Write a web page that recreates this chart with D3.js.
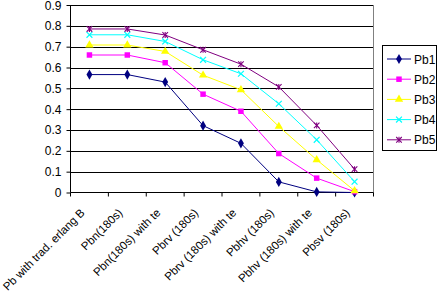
<!DOCTYPE html>
<html><head><meta charset="utf-8">
<script src="https://cdn.jsdelivr.net/npm/d3@7"></script>
<style>body{margin:0;background:#fff}svg{display:block}text{font-family:"Liberation Sans",Arial,sans-serif}</style>
</head><body><svg id="c" width="438" height="299"></svg>
<script>
const categories = ["Pb with trad. erlang B","Pbn(180s)","Pbn(180s) with te","Pbrv (180s)","Pbrv (180s) with te","Pbhv (180s)","Pbhv (180s) with te","Pbsv (180s)"];
const pb1 = [0.566,0.566,0.530,0.321,0.236,0.051,0.003,0.0];
const pb2 = [0.660,0.660,0.623,0.472,0.390,0.187,0.069,0.004];
const pb3 = [0.708,0.708,0.677,0.563,0.493,0.317,0.157,0.008];
const pb4 = [0.757,0.757,0.725,0.637,0.570,0.426,0.253,0.052];
const pb5 = [0.785,0.785,0.756,0.685,0.616,0.507,0.322,0.112];
const seriesNames = ["Pb1","Pb2","Pb3","Pb4","Pb5"];
const yTicks = [0,0.1,0.2,0.3,0.4,0.5,0.6,0.7,0.8,0.9];

const seriesData = [pb1,pb2,pb3,pb4,pb5];
const colors = ["#000080","#FF00FF","#FFFF00","#00FFFF","#800080"];
const symbols = ["diamond","square","triangle","x","star"];

const svg = d3.select("#c");
const L=70.5, R=373.5, T=5, B=192.5;
const x = d3.scaleBand().domain(categories).range([L,R]);
const y = d3.scaleLinear().domain([0,0.9]).range([B,T]);

// gridlines
svg.append("g").selectAll("line").data(yTicks.filter(d=>d>0)).join("line")
  .attr("x1",L).attr("x2",R).attr("y1",d=>Math.round(y(d))+0.5).attr("y2",d=>Math.round(y(d))+0.5)
  .attr("stroke","#000").attr("stroke-width",1);
// right border
svg.append("line").attr("x1",R).attr("x2",R).attr("y1",T).attr("y2",B).attr("stroke","#808080");

// y axis
const yAx = svg.append("g").attr("transform",`translate(${L},0)`)
  .call(d3.axisLeft(y).tickValues(yTicks).tickSize(4).tickPadding(5).tickFormat(d=>d===0?"0":d3.format(".1f")(d)));
yAx.selectAll("text").attr("font-size","12px").attr("fill","#000");
yAx.selectAll("line,path").attr("stroke","#000");
yAx.select(".domain").attr("d",`M0,${T}V${B}`);
yAx.selectAll(".tick").filter(d=>d===0.9).select("text").attr("dy","0.36em");

// x axis
const xAx = svg.append("g").attr("transform",`translate(0,${B})`)
  .call(d3.axisBottom(x).tickSize(0).tickFormat(""));
xAx.select(".domain").attr("d",`M${L},0H${R}`).attr("stroke","#000");
xAx.selectAll("line.bt").data(d3.range(categories.length+1)).join("line")
  .attr("x1",i=>L+i*x.step()).attr("x2",i=>L+i*x.step()).attr("y1",0).attr("y2",4).attr("stroke","#000");
svg.append("g").selectAll("text").data(categories).join("text")
  .attr("transform",d=>`translate(${x(d)+x.bandwidth()/2-4},${B+21}) rotate(-45)`)
  .attr("text-anchor","end").attr("font-size","11.5px").attr("fill","#000").text(d=>d);

// lines + markers
const line = d3.line().x((d,i)=>x(categories[i])+x.bandwidth()/2).y(d=>y(d));
const sym = {diamond:d3.symbolDiamond, square:d3.symbolSquare, triangle:d3.symbolTriangle};
function drawMarker(g, s, c){
  if(s==="star"){
    g.append("path").attr("d",d3.symbol(d3.symbolTimes,22)()).attr("fill","none").attr("stroke",c).attr("stroke-width",1.1);
    g.append("line").attr("x1",0).attr("x2",0).attr("y1",-3).attr("y2",3).attr("stroke",c).attr("stroke-width",1.1);
  } else if(s==="x"){
    g.append("path").attr("d",d3.symbol(d3.symbolTimes,24)()).attr("fill","none").attr("stroke",c).attr("stroke-width",1.2);
  } else {
    g.append("path").attr("d",d3.symbol(sym[s], s==="square"?30:(s==="triangle"?30:30))()).attr("fill",c);
  }
}
seriesData.forEach((vals,k)=>{
  svg.append("path").datum(vals).attr("d",line).attr("fill","none").attr("stroke",colors[k]).attr("stroke-width",1);
  vals.forEach((v,i)=>{
    const g = svg.append("g").attr("transform",`translate(${x(categories[i])+x.bandwidth()/2},${y(v)})`);
    drawMarker(g, symbols[k], colors[k]);
  });
});

// legend
const lg = svg.append("g");
lg.append("rect").attr("x",382.5).attr("y",45.5).attr("width",54).attr("height",105).attr("fill","#fff").attr("stroke","#000");
seriesNames.forEach((n,k)=>{
  const yy = 59 + k*20.2;
  lg.append("line").attr("x1",387).attr("x2",411).attr("y1",yy).attr("y2",yy).attr("stroke",colors[k]);
  const g = lg.append("g").attr("transform",`translate(399,${yy})`);
  drawMarker(g, symbols[k], colors[k]);
  lg.append("text").attr("x",414).attr("y",yy+4.5).attr("font-size","12px").text(n);
});
</script></body></html>
